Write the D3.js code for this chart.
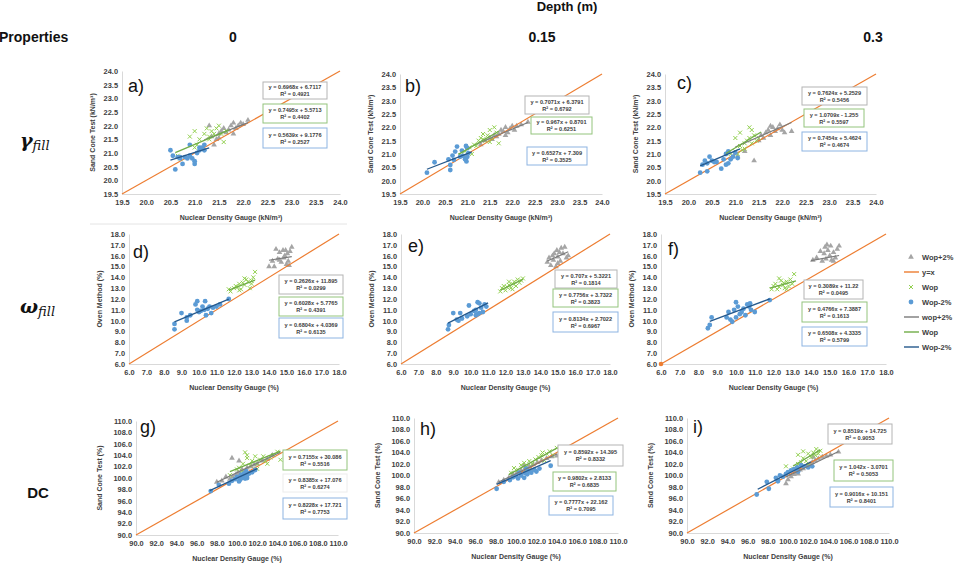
<!DOCTYPE html>
<html>
<head>
<meta charset="utf-8">
<style>
  body { margin: 0; background: #fff; }
  text { font-family: "Liberation Sans", Arial, sans-serif; }
</style>
</head>
<body>
<svg width="974" height="572"></svg>
<script src="https://d3js.org/d3.v7.min.js"></script>
<script>

// ---------- data ----------
var depths = ["0", "0.15", "0.3"];
var panelLabels = ["a)", "b)", "c)", "d)", "e)", "f)", "g)", "h)", "i)"];
var legendNames = ["Wop+2%", "y=x", "Wop", "Wop-2%", "wop+2%", "Wop", "Wop-2%"];

var gammaTicks = [19.5, 20.0, 20.5, 21.0, 21.5, 22.0, 22.5, 23.0, 23.5, 24.0];
var omegaTicks = [6, 7, 8, 9, 10, 11, 12, 13, 14, 15, 16, 17, 18];
var dcTicks = [90, 92, 94, 96, 98, 100, 102, 104, 106, 108, 110];

// Wop+2% (grey triangles), one list per panel a..i
var wopPlus2Points = [
  [[21.3,22.0],[21.35,21.6],[21.4,21.3],[21.45,21.5],[21.5,21.7],[21.55,21.8],[21.6,21.9],[21.7,21.85],[21.75,22.0],[21.8,22.1],[21.85,21.9],[21.9,22.0],[21.95,22.1],[22.0,22.05],[22.1,22.2],[21.8,21.7],[21.65,21.75],[21.5,21.55]],
  [[21.3,21.35],[21.4,21.5],[21.5,21.6],[21.6,21.7],[21.7,21.75],[21.75,21.9],[21.8,21.85],[21.85,22.0],[21.9,21.8],[21.95,21.95],[22.0,22.05],[22.05,21.9],[22.1,22.05],[22.2,22.1],[22.35,22.2],[21.65,21.65],[21.55,21.55],[21.85,21.7]],
  [[21.05,20.9],[21.2,21.1],[21.4,20.75],[21.5,21.5],[21.55,21.7],[21.6,21.6],[21.65,21.8],[21.7,21.9],[21.75,21.7],[21.8,22.0],[21.85,21.85],[21.9,21.95],[21.95,22.1],[22.0,21.9],[22.05,21.8],[22.2,21.85],[21.75,22.05]],
  [[14.0,15.0],[14.2,15.5],[14.3,15.0],[14.4,16.6],[14.5,15.7],[14.6,16.3],[14.7,15.4],[14.8,16.5],[14.85,15.8],[14.9,16.0],[15.0,15.2],[15.05,16.2],[15.1,15.5],[15.15,15.1],[15.2,16.4],[15.3,16.8],[14.95,16.5],[14.6,15.6]],
  [[14.4,15.4],[14.5,15.8],[14.6,15.1],[14.7,16.0],[14.75,15.6],[14.8,16.2],[14.9,15.0],[14.95,16.5],[15.0,15.9],[15.1,16.3],[15.15,15.5],[15.2,16.7],[15.3,16.2],[15.4,16.8],[15.5,15.8],[15.6,16.0],[15.0,15.3]],
  [[14.1,15.6],[14.3,15.8],[14.5,16.4],[14.6,15.5],[14.7,16.2],[14.75,16.8],[14.8,15.7],[14.9,16.5],[15.0,16.0],[15.05,16.9],[15.1,15.6],[15.2,16.3],[15.3,15.8],[15.4,16.6],[15.5,16.9],[14.85,17.0],[15.2,15.5]],
  [[98.0,99.3],[98.5,99.5],[98.9,100.2],[99.3,99.8],[99.6,100.2],[99.9,100.6],[100.1,101.0],[100.3,100.8],[100.5,101.5],[100.8,101.2],[101.0,101.8],[101.4,102.0],[101.7,102.3],[102.0,102.5],[102.5,103.0],[103.0,103.3],[99.5,103.5],[100.2,103.0],[103.5,104.0]],
  [[98.3,98.8],[98.8,99.2],[99.3,99.6],[99.7,100.2],[100.1,100.5],[100.5,100.9],[100.9,101.3],[101.3,101.6],[101.7,101.9],[102.1,102.3],[102.5,102.6],[103.0,103.0],[103.5,103.3],[104.0,103.4],[100.8,101.8],[101.5,101.0]],
  [[99.8,98.6],[100.0,99.3],[100.3,99.8],[100.6,100.2],[100.9,100.5],[101.2,101.0],[101.5,101.2],[101.8,101.6],[102.1,101.9],[102.4,102.3],[102.7,102.6],[103.0,102.9],[103.4,103.2],[103.8,103.4],[104.2,103.6],[105.0,104.1],[102.5,103.2],[101.0,100.3]]
];

// Wop (green crosses)
var wopPoints = [
  [[20.65,20.9],[21.0,21.2],[21.1,21.5],[21.2,21.7],[21.25,21.9],[21.3,21.6],[21.35,21.8],[21.4,21.7],[21.45,21.9],[21.5,22.0],[21.55,21.7],[21.6,21.4],[21.65,21.8],[21.0,21.8],[20.9,21.6],[21.05,21.3],[20.7,20.8],[21.3,21.5]],
  [[20.85,20.95],[20.95,21.1],[21.05,21.25],[21.1,21.0],[21.15,21.35],[21.2,21.3],[21.25,21.5],[21.3,21.6],[21.35,21.75],[21.4,21.5],[21.45,21.7],[21.5,21.9],[21.55,21.6],[21.6,22.0],[21.65,21.8],[21.7,21.4],[21.5,21.45],[21.35,21.55]],
  [[20.9,21.0],[21.0,21.1],[21.05,21.0],[21.1,21.3],[21.15,21.15],[21.2,21.4],[21.25,21.5],[21.3,21.6],[21.35,21.4],[21.4,21.7],[21.45,21.5],[21.5,21.6],[21.3,22.0],[21.35,21.9],[21.0,21.6],[21.1,21.8],[21.2,21.2]],
  [[11.7,12.9],[11.8,12.7],[12.0,13.0],[12.1,13.2],[12.2,13.1],[12.3,13.4],[12.4,12.9],[12.5,13.5],[12.6,13.3],[12.7,13.8],[12.8,13.6],[12.9,13.0],[13.0,13.7],[13.1,14.0],[13.2,14.5],[12.3,12.8],[12.6,13.9],[13.0,13.4]],
  [[11.7,12.7],[11.8,13.0],[11.9,13.2],[12.0,12.8],[12.1,13.1],[12.2,13.3],[12.3,13.0],[12.4,13.4],[12.5,13.6],[12.6,13.2],[12.7,13.8],[12.8,13.5],[12.9,13.7],[13.0,13.9],[12.4,12.9],[12.2,13.6]],
  [[11.9,12.9],[12.0,13.2],[12.1,13.4],[12.2,12.9],[12.3,13.1],[12.4,13.7],[12.5,13.3],[12.55,13.5],[12.6,13.0],[12.7,13.6],[12.8,13.2],[12.9,13.8],[13.0,13.4],[13.1,14.3],[12.3,13.9],[12.7,12.9]],
  [[99.3,100.5],[100.0,101.5],[100.2,101.8],[100.5,101.2],[100.6,102.5],[100.8,104.5],[101.0,103.5],[101.3,102.2],[101.5,103.0],[101.8,103.8],[102.0,102.5],[102.3,103.2],[102.6,103.8],[102.8,103.0],[103.0,102.5],[103.3,103.6],[103.6,104.0],[104.0,104.6],[104.3,103.2],[101.0,104.0],[102.0,101.6]],
  [[99.5,100.5],[99.8,101.3],[100.2,101.0],[100.5,101.8],[100.8,102.2],[101.0,101.5],[101.3,102.5],[101.6,102.0],[101.9,102.8],[102.2,103.2],[102.5,103.5],[102.8,102.6],[103.0,103.8],[103.3,104.2],[103.6,103.5],[104.0,104.8],[102.6,104.0],[101.0,101.0]],
  [[99.8,101.6],[100.5,101.2],[100.8,101.5],[101.0,102.0],[101.3,102.3],[101.5,103.0],[101.8,102.5],[102.0,103.8],[102.3,103.2],[102.5,104.0],[102.7,103.5],[102.8,104.6],[103.0,103.8],[103.2,104.3],[101.5,104.2],[101.0,103.6],[102.0,101.8]]
];

// Wop-2% (blue dots)
var wopMinus2Points = [
  [[20.5,21.1],[20.55,20.9],[20.6,20.4],[20.65,20.85],[20.7,20.8],[20.75,20.6],[20.8,20.85],[20.85,20.8],[20.9,20.9],[20.9,21.3],[20.95,20.8],[21.0,20.6],[21.0,20.7],[21.05,21.0],[21.1,21.2],[21.1,21.1],[21.15,21.2],[21.2,21.3],[21.2,21.1],[20.7,20.85]],
  [[20.1,20.3],[20.27,20.69],[20.58,20.8],[20.62,20.59],[20.62,20.4],[20.67,20.94],[20.77,21.28],[20.73,21.09],[20.88,21.13],[20.9,20.93],[20.97,20.84],[20.98,20.72],[21.0,21.22],[21.02,21.03],[21.0,20.9],[20.95,20.8],[20.84,20.9],[20.7,20.78],[20.97,21.3]],
  [[20.25,20.3],[20.3,20.6],[20.4,20.65],[20.45,20.9],[20.5,20.75],[20.55,20.7],[20.6,20.7],[20.7,20.45],[20.75,20.8],[20.8,21.0],[20.8,20.6],[20.85,20.65],[20.9,20.8],[20.95,20.9],[21.0,21.05],[21.05,20.85],[20.4,20.35],[20.35,20.75],[20.85,21.1]],
  [[8.6,9.2],[8.6,9.7],[9.0,10.7],[9.3,10.0],[9.3,10.3],[9.5,10.5],[9.8,11.5],[9.9,11.8],[9.9,11.0],[10.0,10.8],[10.1,10.9],[10.2,11.3],[10.3,11.0],[10.35,11.8],[10.4,10.5],[10.5,11.1],[10.6,11.3],[10.7,10.7],[10.8,11.2],[11.0,11.3],[11.2,11.5],[11.7,12.0]],
  [[8.7,9.2],[8.75,9.6],[9.0,10.7],[9.2,10.1],[9.3,10.0],[9.4,10.7],[9.5,10.2],[9.8,10.4],[9.9,11.4],[10.0,10.6],[10.2,10.9],[10.3,11.0],[10.3,10.5],[10.4,11.7],[10.5,11.6],[10.5,10.7],[10.6,11.2],[10.7,10.8],[10.8,11.5],[10.9,11.3],[10.4,10.6]],
  [[8.5,9.3],[8.6,9.6],[8.7,10.3],[9.5,10.3],[9.6,10.8],[9.7,10.1],[9.8,9.9],[9.9,11.0],[10.0,11.7],[10.1,11.3],[10.2,10.6],[10.3,10.8],[10.4,11.1],[10.5,10.5],[10.6,11.5],[10.7,11.3],[10.75,11.6],[10.8,11.0],[11.0,10.8],[10.0,10.3],[11.8,11.9]],
  [[97.4,97.7],[98.2,98.8],[99.2,99.0],[99.5,99.5],[99.8,99.8],[100.0,100.2],[100.3,99.7],[100.5,100.0],[100.6,100.4],[100.8,99.9],[101.0,100.5],[101.2,100.8],[100.9,101.2],[101.5,101.0],[101.8,101.4],[100.2,99.4],[100.7,100.8],[101.0,100.0],[100.4,100.6]],
  [[98.1,97.7],[98.8,98.9],[99.4,99.2],[99.7,99.7],[100.0,99.9],[100.2,99.5],[100.5,100.0],[100.8,99.6],[100.9,100.4],[101.1,100.2],[101.3,100.8],[101.5,100.5],[101.8,101.0],[102.0,100.7],[102.3,101.2],[103.4,101.7],[100.3,100.5],[101.0,101.2]],
  [[96.9,96.7],[97.9,98.9],[98.1,97.7],[98.8,99.6],[99.0,99.2],[99.2,100.0],[99.5,99.8],[99.8,100.3],[100.0,100.6],[100.3,100.9],[100.6,101.1],[100.9,101.4],[101.0,100.7],[101.3,101.8],[101.6,101.6],[102.0,101.4],[102.4,101.6],[99.0,99.0]]
];

// trendlines: [slope, intercept, R², x from, x to]
var wopPlus2Fits = [
  [0.6968, 6.7117, 0.4921, 21.2, 22.1],
  [0.7071, 6.3791, 0.6792, 21.2, 22.35],
  [0.7624, 5.2529, 0.5456, 21.0, 22.2],
  [0.2626, 11.895, 0.0299, 14.0, 15.3],
  [0.707, 5.3221, 0.1814, 14.4, 15.6],
  [0.3089, 11.22, 0.0495, 14.0, 15.5],
  [0.8385, 17.076, 0.6274, 98.0, 104.3],
  [0.8592, 14.395, 0.8332, 98.3, 104.0],
  [0.8519, 14.725, 0.9053, 99.8, 105.0]
];
var wopFits = [
  [0.7495, 5.5713, 0.4402, 20.6, 21.7],
  [0.967, 0.8701, 0.6251, 20.8, 21.7],
  [1.0709, -1.255, 0.5597, 20.8, 21.55],
  [0.6028, 5.7765, 0.4391, 11.7, 13.2],
  [0.7756, 3.7322, 0.3823, 11.7, 13.0],
  [0.4766, 7.3887, 0.1613, 11.8, 13.2],
  [0.7155, 30.086, 0.5516, 99.3, 104.3],
  [0.9802, 2.8133, 0.6835, 99.3, 104.0],
  [1.042, -3.0701, 0.5053, 100.5, 103.2]
];
var wopMinus2Fits = [
  [0.5639, 9.1776, 0.2527, 20.5, 21.3],
  [0.6527, 7.309, 0.3525, 20.1, 21.1],
  [0.7454, 5.4624, 0.4674, 20.25, 21.1],
  [0.6804, 4.0369, 0.6135, 8.6, 11.7],
  [0.8134, 2.7022, 0.6967, 8.7, 11.0],
  [0.6508, 4.3335, 0.5799, 8.6, 11.8],
  [0.8228, 17.721, 0.7753, 97.3, 102.0],
  [0.7777, 22.162, 0.7095, 98.1, 103.4],
  [0.9016, 10.151, 0.8401, 97.0, 102.3]
];

// ---------- layout ----------
var rows = [
  { ticks: gammaTicks, xTitle: "Nuclear Density Gauge (kN/m\u00B3)", yTitle: "Sand Cone Test (kN/m\u00B3)", yOff: 29 },
  { ticks: omegaTicks, xTitle: "Nuclear Density Gauge (%)", yTitle: "Oven Method (%)", yOff: 29 },
  { ticks: dcTicks, xTitle: "Nuclear Density Gauge (%)", yTitle: "Sand Cone Test (%)", yOff: 36 }
];

// plot rect, panel label offset, equation boxes [grey, green, blue]
var frames = [
  { x0: 122, x1: 340, y0: 71, y1: 194, lab: [6, 21], boxes: [[263,82,64,17],[263,104,64,19],[263,128,64,20]] },
  { x0: 400, x1: 602, y0: 74, y1: 194, lab: [5, 18], boxes: [[525,96,64,18],[531,117,61,17],[527,147,60,18]] },
  { x0: 665, x1: 876, y0: 74, y1: 194, lab: [12, 15], boxes: [[802,87,65,18],[804,109,60,18],[802,132,65,19]] },
  { x0: 129, x1: 339, y0: 234, y1: 364, lab: [4, 24], boxes: [[279,275,64,19],[279,297,64,19],[279,318,64,20]] },
  { x0: 401, x1: 610, y0: 234, y1: 364, lab: [7, 18], boxes: [[555,270,62,18],[553,289,65,18],[553,312,65,20]] },
  { x0: 661, x1: 886, y0: 234, y1: 364, lab: [7, 21], boxes: [[804,280,59,19],[802,302,65,20],[802,327,65,19]] },
  { x0: 136, x1: 338, y0: 421, y1: 535, lab: [4, 12], boxes: [[283,474,64,18],[283,450,64,20],[283,498,64,21]] },
  { x0: 414, x1: 618, y0: 418, y1: 533, lab: [6, 17], boxes: [[558,445,65,21],[553,472,63,19],[549,496,64,19]] },
  { x0: 687, x1: 889, y0: 418, y1: 533, lab: [6, 15], boxes: [[828,424,64,20],[834,460,59,21],[830,487,63,20]] }
];

var colBlue = "#5b9bd5", colGreen = "#92d050", colGrey = "#a5a5a5", colOrange = "#ed7d31";
var lineGrey = "#7a7a7a", lineGreen = "#70ad47", lineBlue = "#24588c";
var boxBorders = ["#b4b4b4", "#93c47d", "#8db4e2"];

var svg = d3.select("svg");
var fmt = d3.format(".1f");
var headFont = "'Liberation Sans Narrow', 'Liberation Sans', sans-serif";

// ---------- headers ----------
svg.append("text").attr("x", 567).attr("y", 11).attr("text-anchor", "middle")
  .style("font-family", headFont)
  .style("font-weight", "bold").style("font-size", "13px").attr("fill", "#111").text("Depth (m)");
svg.append("text").attr("x", -1).attr("y", 42)
  .style("font-family", headFont)
  .style("font-weight", "bold").style("font-size", "14px").attr("fill", "#111").text("Properties");
[233, 542, 873].forEach(function(cx, i) {
  svg.append("text").attr("x", cx).attr("y", 42).attr("text-anchor", "middle")
    .style("font-family", headFont)
    .style("font-weight", "bold").style("font-size", "14px").attr("fill", "#111").text(depths[i]);
});

// row labels
[["\u03B3", 147], ["\u03C9", 313]].forEach(function(r) {
  var t = svg.append("text").attr("x", 20).attr("y", r[1])
    .style("font-family", "'DejaVu Serif', serif").style("font-style", "italic").attr("fill", "#111");
  t.append("tspan").style("font-size", "19px").style("font-weight", "bold").text(r[0]);
  t.append("tspan").style("font-size", "13px").attr("dy", 3).text("fill");
});
svg.append("text").attr("x", 38).attr("y", 498).attr("text-anchor", "middle")
  .style("font-weight", "bold").style("font-size", "15px").attr("fill", "#111").text("DC");

// faint chart border between the first two rows
svg.append("line").attr("x1", 90).attr("x2", 347).attr("y1", 224).attr("y2", 224)
  .attr("stroke", "#e4e4e4").attr("stroke-width", 1);

// ---------- panels ----------
frames.forEach(function(f, i) {
  var row = rows[Math.floor(i / 3)];
  var lo = row.ticks[0], hi = row.ticks[row.ticks.length - 1];
  var x = d3.scaleLinear().domain([lo, hi]).range([f.x0, f.x1]);
  var y = d3.scaleLinear().domain([lo, hi]).range([f.y1, f.y0]);
  var g = svg.append("g");

  var ax = g.append("g").attr("transform", "translate(0," + f.y1 + ")")
    .call(d3.axisBottom(x).tickValues(row.ticks).tickSize(0).tickPadding(6).tickFormat(fmt));
  var ay = g.append("g").attr("transform", "translate(" + f.x0 + ",0)")
    .call(d3.axisLeft(y).tickValues(row.ticks).tickSize(0).tickPadding(4).tickFormat(fmt));
  [ax, ay].forEach(function(a) {
    a.select(".domain").attr("stroke", "#d9d9d9");
    a.selectAll("text").style("font-family", "'Liberation Sans', sans-serif")
      .style("font-weight", "bold").style("font-size", "7.4px").attr("fill", "#404040");
  });

  g.append("text").attr("x", (f.x0 + f.x1) / 2).attr("y", f.y1 + 26).attr("text-anchor", "middle")
    .style("font-weight", "bold").style("font-size", "7px").attr("fill", "#404040").text(row.xTitle);
  g.append("text").attr("transform", "translate(" + (f.x0 - row.yOff) + "," + ((f.y0 + f.y1) / 2) + ") rotate(-90)")
    .attr("text-anchor", "middle").attr("dy", "0.35em")
    .style("font-weight", "bold").style("font-size", "7px").attr("fill", "#404040").text(row.yTitle);

  // Wop+2% triangles
  g.selectAll(".tri").data(wopPlus2Points[i]).enter().append("path")
    .attr("d", d3.symbol().type(d3.symbolTriangle).size(14))
    .attr("transform", function(d) { return "translate(" + x(d[0]) + "," + y(d[1]) + ")"; })
    .attr("fill", colGrey);

  // y = x
  g.append("line").attr("x1", x(lo)).attr("y1", y(lo)).attr("x2", x(hi)).attr("y2", y(hi))
    .attr("stroke", colOrange).attr("stroke-width", 1.2);
  if (i === 5) {
    g.append("circle").attr("cx", x(lo)).attr("cy", y(lo)).attr("r", 2.3).attr("fill", colOrange);
  }

  // Wop crosses
  g.selectAll(".crs").data(wopPoints[i]).enter().append("path")
    .attr("d", "M-2,-2L2,2M-2,2L2,-2")
    .attr("transform", function(d) { return "translate(" + x(d[0]) + "," + y(d[1]) + ")"; })
    .attr("stroke", colGreen).attr("stroke-width", 1).attr("fill", "none");

  // Wop-2% dots
  g.selectAll(".dot").data(wopMinus2Points[i]).enter().append("circle")
    .attr("cx", function(d) { return x(d[0]); })
    .attr("cy", function(d) { return y(d[1]); })
    .attr("r", 2.4).attr("fill", colBlue);

  // trendlines
  [[wopPlus2Fits[i], lineGrey, 1.1], [wopFits[i], lineGreen, 1.3], [wopMinus2Fits[i], lineBlue, 1.3]].forEach(function(t) {
    var fit = t[0];
    g.append("line")
      .attr("x1", x(fit[3])).attr("y1", y(fit[0] * fit[3] + fit[1]))
      .attr("x2", x(fit[4])).attr("y2", y(fit[0] * fit[4] + fit[1]))
      .attr("stroke", t[1]).attr("stroke-width", t[2]);
  });

  // panel letter
  g.append("text").attr("x", f.x0 + f.lab[0]).attr("y", f.y0 + f.lab[1])
    .style("font-size", "18px").attr("fill", "#111").text(panelLabels[i]);

  // equation boxes
  [wopPlus2Fits[i], wopFits[i], wopMinus2Fits[i]].forEach(function(fit, k) {
    var b = f.boxes[k];
    var border = (i === 6 && k === 0) ? "#ececec" : boxBorders[k];
    g.append("rect").attr("x", b[0]).attr("y", b[1]).attr("width", b[2]).attr("height", b[3])
      .attr("fill", "#fff").attr("stroke", border).attr("stroke-width", 1);
    var eq = "y = " + fit[0] + "x " + (fit[1] < 0 ? "- " : "+ ") + Math.abs(fit[1]);
    var cx = b[0] + b[2] / 2;
    g.append("text").attr("x", cx).attr("y", b[1] + b[3] / 2 - 1.5).attr("text-anchor", "middle")
      .style("font-size", "5.6px").style("font-weight", "bold").attr("fill", "#404040").text(eq);
    g.append("text").attr("x", cx).attr("y", b[1] + b[3] / 2 + 5.5).attr("text-anchor", "middle")
      .style("font-size", "5.6px").style("font-weight", "bold").attr("fill", "#404040")
      .text("R\u00B2 = " + fit[2]);
  });
});

// ---------- legend (right of panel f) ----------
var lg = svg.append("g");
var legendY = d3.scalePoint().domain(legendNames.map(function(d, i) { return i; })).range([257, 347]);
legendNames.forEach(function(name, i) {
  var yy = legendY(i), mx = 911;
  if (i === 0) lg.append("path").attr("d", d3.symbol().type(d3.symbolTriangle).size(14)).attr("transform", "translate(" + mx + "," + yy + ")").attr("fill", colGrey);
  if (i === 2) lg.append("path").attr("d", "M-2,-2L2,2M-2,2L2,-2").attr("transform", "translate(" + mx + "," + yy + ")").attr("stroke", colGreen).attr("fill", "none");
  if (i === 3) lg.append("circle").attr("cx", mx).attr("cy", yy).attr("r", 2.4).attr("fill", colBlue);
  var lineCol = { 1: colOrange, 4: lineGrey, 5: lineGreen, 6: lineBlue }[i];
  if (lineCol) lg.append("line").attr("x1", 904).attr("x2", 919).attr("y1", yy).attr("y2", yy).attr("stroke", lineCol).attr("stroke-width", 1.4);
  lg.append("text").attr("x", 922).attr("y", yy).attr("dy", "0.35em")
    .style("font-weight", "bold").style("font-size", "7.5px").attr("fill", "#404040").text(name);
});

</script>
</body>
</html>
